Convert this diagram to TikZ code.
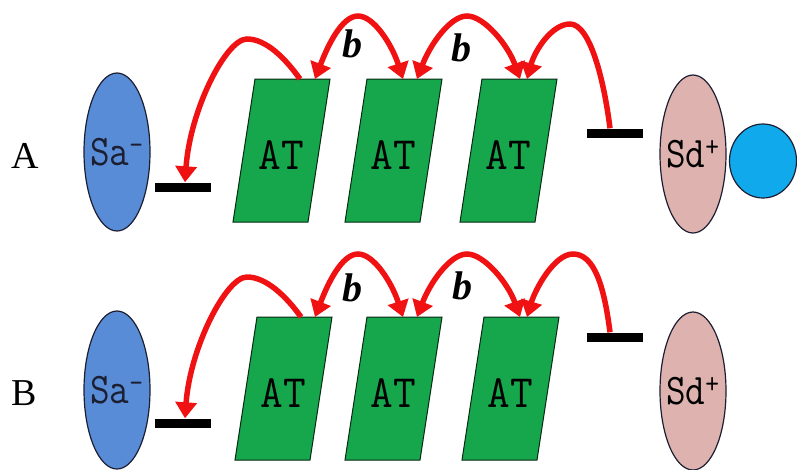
\documentclass[tikz,border=0pt]{standalone}
\usepackage{fontspec}
\setmainfont{Liberation Serif}
\usetikzlibrary{arrows.meta,shapes.geometric}

\definecolor{atgreen}{RGB}{22,166,76}
\definecolor{accblue}{RGB}{88,140,214}
\definecolor{donpink}{RGB}{222,178,174}
\definecolor{ballblue}{RGB}{16,170,236}
\definecolor{hopred}{RGB}{240,18,18}
\definecolor{rimdark}{RGB}{28,30,50}

\tikzset{
  atbox/.style={fill=atgreen, draw=black!75!atgreen, line width=1pt},
  attext/.style={font=\ttfamily\fontsize{44}{44}\selectfont, inner sep=0pt, yscale=1.05},
  site/.style={ellipse, draw=rimdark, line width=1.2pt, inner sep=0pt,
    minimum width=66pt, minimum height=158pt},
  sitetext/.style={font=\ttfamily\fontsize{38}{38}\selectfont, inner sep=0pt, yscale=1.15},
  accsite/.style={site, fill=accblue},
  donsite/.style={site, fill=donpink},
  ball/.style={ellipse, draw=rimdark, line width=1.2pt, fill=ballblue,
    minimum width=67pt, minimum height=74pt, inner sep=0pt},
  bar/.style={fill=black, minimum width=56pt, minimum height=9pt, inner sep=0pt},
  panellabel/.style={font=\fontsize{38}{38}\selectfont, inner sep=0pt},
  blabel/.style={font=\bfseries\itshape\fontsize{40}{40}\selectfont, inner sep=0pt},
  hop/.style={draw=hopred, line width=5.5pt, -{Triangle[length=16pt,width=21pt]}},
  hopboth/.style={draw=hopred, line width=5.5pt,
    {Triangle[length=16pt,width=21pt]}-{Triangle[length=16pt,width=21pt]}},
}

% green transporter block: #1 name, #2 bottom-left x, #3 top y
\newcommand\drawat[3]{%
  \draw[atbox] (#2,#3+143) -- ++(75,0) -- ++(22,-143) -- ++(-75,0) -- cycle;
  \node[attext] (#1) at (#2+48.5,#3+76) {AT};
}

\begin{document}
\begin{tikzpicture}[x=1pt,y=-1pt]
\useasboundingbox (0,0) rectangle (797,469);

% ---------------- panel A ----------------
\node[panellabel] (labA) at (25,156) {A};
\node[accsite] (saA) at (117,152) {};
\node[sitetext, text=rimdark] (saAt) at (saA.center) {Sa\textsuperscript{-}};
\node[bar] (lbarA) at (183,187) {};
\drawat{at1A}{233}{79}
\drawat{at2A}{345}{79}
\drawat{at3A}{460}{79}
\node[bar] (rbarA) at (615,133) {};
\node[donsite] (sdA) at (693,154) {};
\node[sitetext] (sdAt) at (sdA.center) {Sd\textsuperscript{+}};
\node[ball] (ballA) at (763,161) {};

\coordinate (at1A-out) at (300,79);
\coordinate (at1A-in)  at (315,79);
\coordinate (at2A-in)  at (403,79);
\coordinate (at2A-out) at (417,79);
\coordinate (at3A-in)  at (520,79);
\coordinate (at3A-end) at (527,79);

\draw[hop] (at1A-out) .. controls (285,58) and (266,39) .. (247,39)
  .. controls (226,39) and (190,110) .. ([xshift=2pt]lbarA.north);
\draw[hopboth] (at1A-in) .. controls (328,45) and (342,16) .. (358,16)
  .. controls (374,16) and (392,45) .. (at2A-in);
\draw[hopboth] (at2A-out) .. controls (430,45) and (450,16) .. (467,16)
  .. controls (484,16) and (508,45) .. (at3A-in);
\draw[hop] ([xshift=-5pt]rbarA.north) .. controls (604,80) and (590,24) .. (570,24)
  .. controls (552,24) and (535,50) .. (at3A-end);

\node[blabel] (bA1) at (352,44) {b};
\node[blabel] (bA2) at (461,48) {b};

% ---------------- panel B ----------------
\node[panellabel] (labB) at (24,393) {B};
\node[accsite] (saB) at (117,390) {};
\node[sitetext, text=rimdark] (saBt) at (saB.center) {Sa\textsuperscript{-}};
\node[bar] (lbarB) at (183,423) {};
\drawat{at1B}{235}{317}
\drawat{at2B}{345}{317}
\drawat{at3B}{462}{317}
\node[bar] (rbarB) at (615,337) {};
\node[donsite] (sdB) at (693,391) {};
\node[sitetext] (sdBt) at (sdB.center) {Sd\textsuperscript{+}};

\coordinate (at1B-out) at (301,317);
\coordinate (at1B-in)  at (315,317);
\coordinate (at2B-in)  at (403,317);
\coordinate (at2B-out) at (417,317);
\coordinate (at3B-in)  at (520,317);
\coordinate (at3B-end) at (527,317);

\draw[hop] (at1B-out) .. controls (286,296) and (266,277) .. (247,277)
  .. controls (226,277) and (190,348) .. ([xshift=2pt]lbarB.north);
\draw[hopboth] (at1B-in) .. controls (328,283) and (342,254) .. (358,254)
  .. controls (374,254) and (392,283) .. (at2B-in);
\draw[hopboth] (at2B-out) .. controls (430,283) and (450,254) .. (467,254)
  .. controls (484,254) and (508,283) .. (at3B-in);
\draw[hop] ([xshift=-5pt]rbarB.north) .. controls (604,285) and (594,254) .. (573,254)
  .. controls (554,254) and (535,290) .. (at3B-end);

\node[blabel] (bB1) at (352,288) {b};
\node[blabel] (bB2) at (462,286) {b};
\end{tikzpicture}
\end{document}
